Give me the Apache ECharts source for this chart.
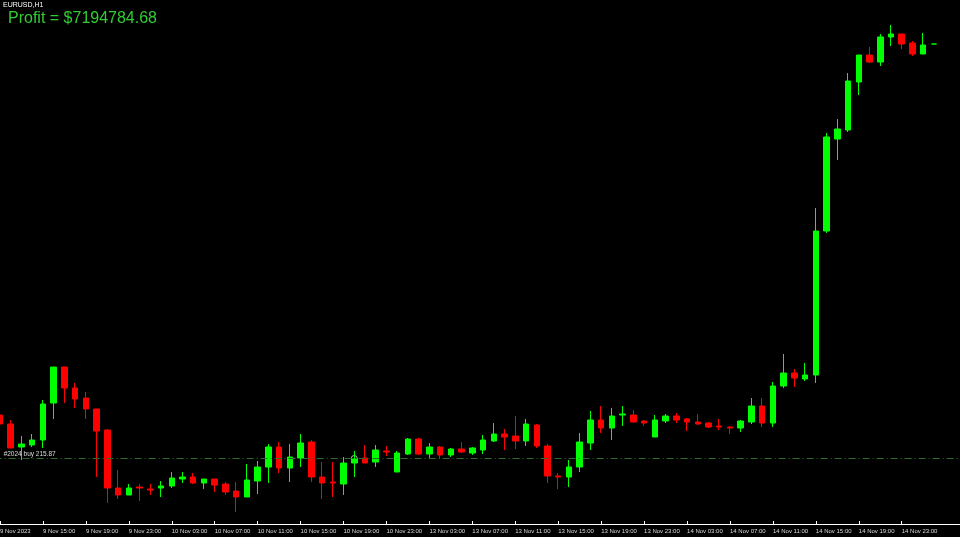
<!DOCTYPE html>
<html><head><meta charset="utf-8">
<script src="https://cdn.jsdelivr.net/npm/echarts@6/dist/echarts.min.js"></script>
<style>html,body{margin:0;padding:0;background:#000;}#chart{width:960px;height:537px;}</style>
</head><body><div id="chart"></div>
<script>
const symbolName = 'EURUSD,H1';
const profitText = 'Profit = $7194784.68';
const firstTickLabel = '9 Nov 2023';
// hourly bars: [day, first hour, last hour] (weekend skipped)
const sessions = [['9 Nov', 11, 23], ['10 Nov', 0, 23], ['13 Nov', 0, 23], ['14 Nov', 0, 23], ['15 Nov', 0, 2]];
const shiftSlots = 2; // empty chart-shift space on the right

// price levels (arbitrary units, no price scale shown)
const opens = [109,100,77,79,84,121,157,136,126,115,
  94,36,29,37,35,36,38,45,47,41,
  45,40,33,27,43,57,77,56,66,82,
  47,42,40,61,66,62,73,52,70,85,
  70,77,69,75,71,74,83,90,88,83,
  99,78,48,47,57,81,104,96,109,109,
  103,87,103,108,105,102,101,98,97,96,
  102,118,101,138,151,145,149,293,385,394,
  442,469,462,487,490,481,470,480];
const closes = [100,76,80,84,120,157,136,125,115,93,
  36,29,36,36,34,38,46,47,41,45,
  39,32,27,44,57,77,56,67,81,47,
  41,41,61,65,61,74,72,71,85,70,
  77,69,75,72,76,84,90,87,83,100,
  78,48,47,57,82,104,96,108,110,102,
  101,104,108,104,102,100,97,97,96,103,
  118,101,138,151,146,149,293,387,395,443,
  469,462,487,490,480,470,479,480];
const lows = [94,76,64,77,76,105,121,116,105,47,
  21,25,29,23,29,27,36,41,40,35,
  32,29,12,27,30,41,51,42,57,42,
  25,27,29,47,61,57,68,52,69,69,
  65,65,67,71,69,70,82,74,75,78,
  76,41,35,37,52,74,91,84,98,102,
  98,87,101,101,93,99,96,94,90,92,
  100,97,97,136,137,143,141,291,364,392,
  429,461,458,478,475,468,470,480];
const highs = [116,104,88,90,124,157,157,141,132,115,
  95,54,40,40,40,43,52,52,51,45,
  45,42,42,60,63,80,82,80,90,84,
  62,62,67,73,79,79,78,73,86,86,
  81,78,76,82,77,89,101,95,108,105,
  100,80,51,64,91,113,118,116,118,114,
  104,109,110,111,106,110,102,105,98,104,
  126,126,142,170,155,161,316,391,405,451,
  469,477,490,499,490,483,491,480];

const buyLevel = 65.5;
const buyLabel = '#2024 buy 215.87';
const closeMarkIndex = 33;
const closeMarkLevel = 65.5;

const categories = [];
sessions.forEach(([d, h0, h1]) => {
  for (let h = h0; h <= h1; h++) categories.push(d + ' ' + String(h).padStart(2, '0') + ':00');
});
for (let i = 0; i < shiftSlots; i++) categories.push('');

const candles = opens.map((o, i) => [o, closes[i], lows[i], highs[i]]);

const band = 10.735;
const showTick = (i, v) => v !== '' && i % 4 === 0;

const chart = echarts.init(document.getElementById('chart'), null, {renderer: 'canvas'});
chart.setOption({
  backgroundColor: '#000000',
  animation: false,
  grid: {left: -band / 2, width: band * categories.length, top: 0, bottom: 13, outerBoundsMode: 'none', containLabel: false},
  xAxis: {
    type: 'category', data: categories, boundaryGap: true,
    axisLine: {show: true, lineStyle: {color: '#ffffff', width: 1}},
    axisTick: {show: true, inside: true, length: 3, alignWithLabel: true, interval: showTick, lineStyle: {color: '#ffffff'}},
    axisLabel: {interval: showTick, formatter: (v, i) => i === 0 ? firstTickLabel : v,
      color: '#dddddd', fontSize: 6, fontFamily: 'Liberation Sans', align: 'left', margin: 4, hideOverlap: false},
    splitLine: {show: false}
  },
  yAxis: {type: 'value', min: 0, max: 524, show: false, splitLine: {show: false}},
  graphic: [
    {type: 'text', left: 3, top: 2, style: {text: symbolName, fill: '#ffffff', font: '7px "Liberation Sans"'}},
    {type: 'text', left: 8, top: 11, style: {text: profitText, fill: '#32cd32', font: '16px "Liberation Sans"'}}
  ],
  series: [
    {
      type: 'scatter', data: [[closeMarkIndex, closeMarkLevel]], symbol: 'circle', symbolSize: 6, z: 1, silent: true,
      itemStyle: {color: 'rgba(0,0,0,0)', borderColor: '#e0e0e0', borderWidth: 1}
    },
    {
      type: 'candlestick', data: candles, barWidth: 6, z: 3,
      itemStyle: {color: '#00ff00', color0: '#ff0000', borderColor: '#00ff00', borderColor0: '#ff0000', borderColorDoji: '#00ff00', borderWidth: 1},
      markLine: {
        silent: true, symbol: ['none', 'none'],
        lineStyle: {color: '#2e6b2e', width: 1, type: [7, 3, 1, 3]},
        label: {show: true, position: 'insideStartTop', formatter: buyLabel, color: '#dddddd', fontSize: 6.5, fontFamily: 'Liberation Sans', distance: [9, 1]},
        data: [{yAxis: buyLevel}]
      }
    }
  ]
});
</script></body></html>
